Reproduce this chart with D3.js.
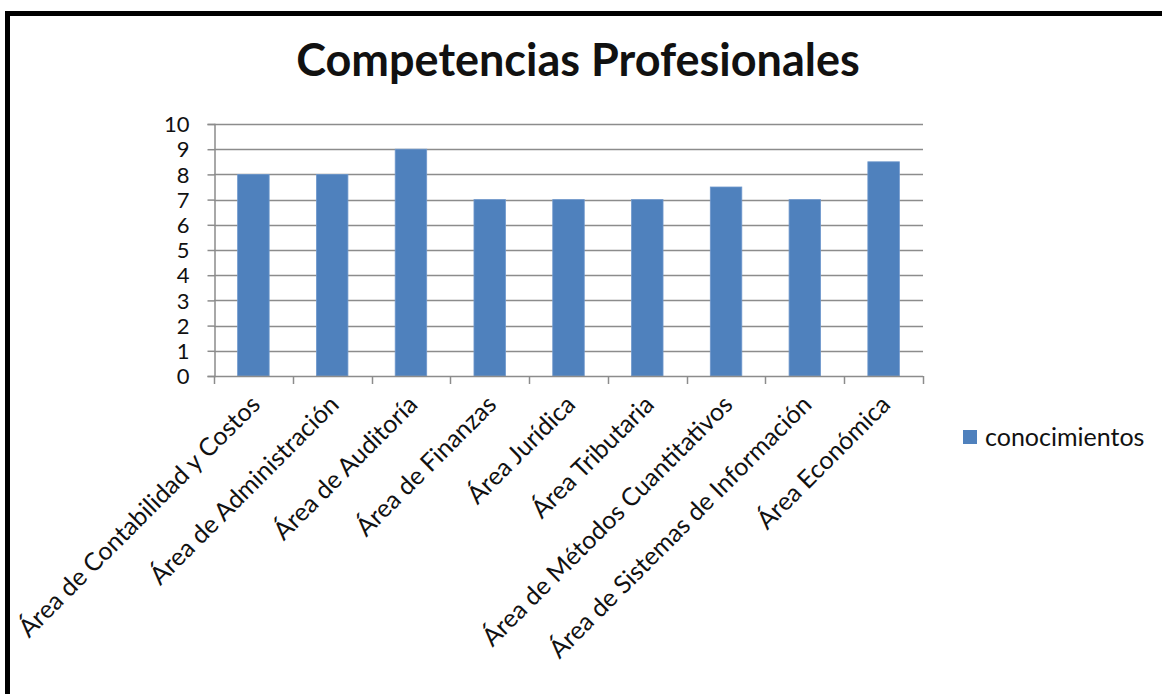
<!DOCTYPE html>
<html><head><meta charset="utf-8">
<script src="https://cdn.jsdelivr.net/npm/d3@7"></script>
<style>body{margin:0;background:#fff}svg{display:block}text{font-family:Lato,"Open Sans",sans-serif;fill:#111}</style>
</head><body><svg id="c" width="1162" height="694"></svg>
<script>
const title = "Competencias Profesionales";
const categories = ["Área de Contabilidad y Costos","Área de Administración","Área de Auditoría","Área de Finanzas","Área Jurídica","Área Tributaria","Área de Métodos Cuantitativos","Área de Sistemas de Información","Área Económica"];
const seriesName = "conocimientos";
const values = [8, 8, 9, 7, 7, 7, 7.5, 7, 8.5];
const yTicks = [0,1,2,3,4,5,6,7,8,9,10];

const svg = d3.select("#c");
svg.append("rect").attr("x",7.5).attr("y",13.5).attr("width",1170).attr("height",700)
  .attr("fill","none").attr("stroke","#000").attr("stroke-width",5);

const m = {l:214, r:923, t:124, b:376};
const x = d3.scaleBand().domain(categories).range([m.l, m.r]).paddingInner(0.6).paddingOuter(0.3);
const y = d3.scaleLinear().domain([0,10]).range([m.b, m.t]);

svg.append("text").attr("x",578).attr("y",76).attr("text-anchor","middle")
  .style("font-size","45px").style("font-weight","bold").text(title);

// gridlines
svg.append("g").selectAll("line").data(yTicks.filter(d=>d>0)).join("line")
  .attr("x1",m.l).attr("x2",m.r).attr("y1",d=>Math.round(y(d))+0.5).attr("y2",d=>Math.round(y(d))+0.5)
  .attr("stroke","#8c8c8c").attr("stroke-width",1.5);

// y axis
const ya = svg.append("g").attr("transform",`translate(${m.l+0.5},0)`)
  .call(d3.axisLeft(y).tickValues(yTicks).tickSize(7).tickPadding(18).tickFormat(d3.format("d")));
ya.select(".domain").attr("stroke","#8c8c8c").attr("stroke-width",1.5);
ya.selectAll(".tick line").attr("stroke","#8c8c8c").attr("stroke-width",1.5);
ya.selectAll(".tick text").style("font-size","22px").style("font-family","Lato,sans-serif").attr("fill","#111").attr("dy","0.35em");

// bars
svg.append("g").selectAll("rect").data(values).join("rect")
  .attr("x",(d,i)=>x(categories[i])).attr("width",x.bandwidth())
  .attr("y",d=>y(d)).attr("height",d=>y(0)-y(d))
  .attr("fill","#4F81BD").attr("stroke","#6f98cc").attr("stroke-width",0.8);

// x axis
const xb = d3.scaleLinear().domain([0,categories.length]).range([m.l,m.r]);
svg.append("line").attr("x1",m.l).attr("x2",m.r).attr("y1",m.b+0.5).attr("y2",m.b+0.5).attr("stroke","#8c8c8c").attr("stroke-width",1.5);
svg.append("g").selectAll("line").data(d3.range(categories.length+1)).join("line")
  .attr("x1",d=>Math.round(xb(d))+0.5).attr("x2",d=>Math.round(xb(d))+0.5).attr("y1",m.b).attr("y2",m.b+8)
  .attr("stroke","#8c8c8c").attr("stroke-width",1.5);

svg.append("g").selectAll("text").data(categories).join("text")
  .attr("transform",d=>`translate(${x(d)+x.bandwidth()/2+2},${m.b+24}) rotate(-45)`)
  .attr("text-anchor","end").attr("dy","0.35em").style("font-size","25px").text(d=>d);

// legend
svg.append("rect").attr("x",963).attr("y",430).attr("width",14).attr("height",14).attr("fill","#4F81BD");
svg.append("text").attr("x",985).attr("y",446).style("font-size","25px").text(seriesName);
</script></body></html>
